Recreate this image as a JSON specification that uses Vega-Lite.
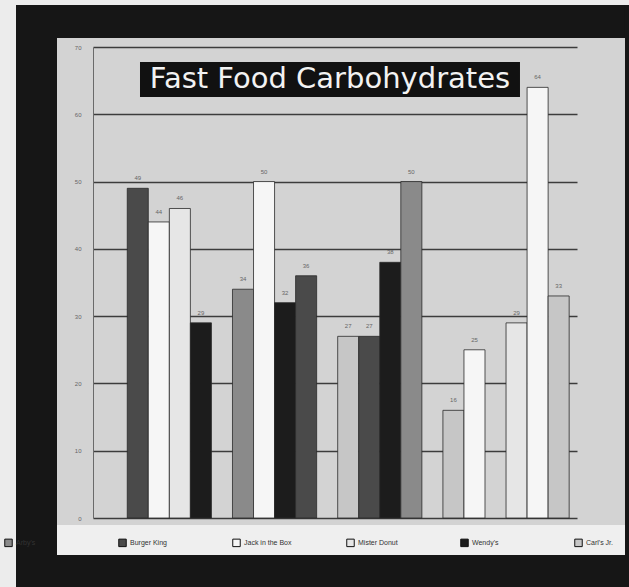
{
  "$schema": "https://vega.github.io/schema/vega-lite/v6.json",
  "width": 484,
  "height": 471,
  "autosize": "none",
  "padding": {"left": 93, "top": 47, "right": 52, "bottom": 69},
  "background": "#d3d3d3",
  "config": {"view": {"stroke": null}, "font": "Liberation Sans"},
  "data": {"values": [
    {"group": "Group 1", "item": "a1", "restaurant": "Burger King", "carbs": 49},
    {"group": "Group 1", "item": "a2", "restaurant": "Jack in the Box", "carbs": 44},
    {"group": "Group 1", "item": "a3", "restaurant": "Mister Donut", "carbs": 46},
    {"group": "Group 1", "item": "a4", "restaurant": "Wendy's", "carbs": 29},
    {"group": "Group 2", "item": "b1", "restaurant": "Arby's", "carbs": 34},
    {"group": "Group 2", "item": "b2", "restaurant": "Jack in the Box", "carbs": 50},
    {"group": "Group 2", "item": "b3", "restaurant": "Wendy's", "carbs": 32},
    {"group": "Group 2", "item": "b4", "restaurant": "Burger King", "carbs": 36},
    {"group": "Group 3", "item": "c1", "restaurant": "Carl's Jr.", "carbs": 27},
    {"group": "Group 3", "item": "c2", "restaurant": "Burger King", "carbs": 27},
    {"group": "Group 3", "item": "c3", "restaurant": "Wendy's", "carbs": 38},
    {"group": "Group 3", "item": "c4", "restaurant": "Arby's", "carbs": 50},
    {"group": "Group 4", "item": "d1", "restaurant": "Carl's Jr.", "carbs": 16},
    {"group": "Group 4", "item": "d2", "restaurant": "Jack in the Box", "carbs": 25},
    {"group": "Group 4", "item": "d3", "restaurant": "Mister Donut", "carbs": 29},
    {"group": "Group 4", "item": "d4", "restaurant": "Jack in the Box", "carbs": 64},
    {"group": "Group 4", "item": "d5", "restaurant": "Carl's Jr.", "carbs": 33}
  ]},
  "resolve": {"scale": {"x": "independent"}},
  "layer": [
    {
      "data": {"values": [{"part": "paper left"}]},
      "mark": {"type": "rect", "color": "#ececec"},
      "encoding": {
        "x": {"datum": -0.19215, "type": "quantitative", "scale": {"domain": [0, 1]}, "axis": null},
        "x2": {"datum": -0.15909},
        "y": {"datum": 76.98, "type": "quantitative"},
        "y2": {"datum": -10.25}
      }
    },
    {
      "data": {"values": [{"part": "paper top"}]},
      "mark": {"type": "rect", "color": "#ececec"},
      "encoding": {
        "x": {"datum": -0.19215, "type": "quantitative", "scale": {"domain": [0, 1]}, "axis": null},
        "x2": {"datum": 1.10744},
        "y": {"datum": 76.98, "type": "quantitative"},
        "y2": {"datum": 76.24}
      }
    },
    {
      "data": {"values": [{"part": "frame left"}]},
      "mark": {"type": "rect", "color": "#161616"},
      "encoding": {
        "x": {"datum": -0.15909, "type": "quantitative", "scale": {"domain": [0, 1]}, "axis": null},
        "x2": {"datum": -0.07438},
        "y": {"datum": 76.24, "type": "quantitative"},
        "y2": {"datum": -10.25}
      }
    },
    {
      "data": {"values": [{"part": "frame top"}]},
      "mark": {"type": "rect", "color": "#161616"},
      "encoding": {
        "x": {"datum": -0.15909, "type": "quantitative", "scale": {"domain": [0, 1]}, "axis": null},
        "x2": {"datum": 1.10744},
        "y": {"datum": 76.24, "type": "quantitative"},
        "y2": {"datum": 71.33}
      }
    },
    {
      "data": {"values": [{"part": "frame right"}]},
      "mark": {"type": "rect", "color": "#161616"},
      "encoding": {
        "x": {"datum": 1.09917, "type": "quantitative", "scale": {"domain": [0, 1]}, "axis": null},
        "x2": {"datum": 1.10744},
        "y": {"datum": 76.24, "type": "quantitative"},
        "y2": {"datum": -10.25}
      }
    },
    {
      "data": {"values": [{"part": "frame bottom"}]},
      "mark": {"type": "rect", "color": "#161616"},
      "encoding": {
        "x": {"datum": -0.15909, "type": "quantitative", "scale": {"domain": [0, 1]}, "axis": null},
        "x2": {"datum": 1.10744},
        "y": {"datum": -5.5, "type": "quantitative"},
        "y2": {"datum": -10.25}
      }
    },
    {
      "data": {"values": [{"part": "legend band"}]},
      "mark": {"type": "rect", "color": "#efefef"},
      "encoding": {
        "x": {"datum": -0.07438, "type": "quantitative", "scale": {"domain": [0, 1]}, "axis": null},
        "x2": {"datum": 1.09917},
        "y": {"datum": -1.04, "type": "quantitative"},
        "y2": {"datum": -5.5}
      }
    },
    {
      "mark": {"type": "bar", "stroke": "#2a2a2a", "strokeWidth": 0.8},
      "encoding": {
        "x": {
          "field": "item", "type": "nominal", "sort": null,
          "scale": {
            "type": "band",
            "domain": ["a1", "a2", "a3", "a4", "s4", "b1", "b2", "b3", "b4", "s5", "c1", "c2", "c3", "c4", "s6", "d1", "d2", "s7", "d3", "d4", "d5"],
            "paddingInner": 0, "paddingOuter": 1.024, "align": 0.814
          },
          "axis": null
        },
        "y": {
          "field": "carbs", "type": "quantitative",
          "scale": {"domain": [0, 70], "nice": false, "zero": false},
          "axis": {
            "values": [0, 10, 20, 30, 40, 50, 60, 70],
            "title": null, "grid": true, "gridColor": "#3c3c3c", "gridWidth": 1.3,
            "domain": true, "domainColor": "#6a6a6a", "domainWidth": 1,
            "ticks": false, "labelFontSize": 6, "labelColor": "#666",
            "labelPadding": 12
          }
        },
        "y2": {"datum": 0},
        "color": {
          "field": "restaurant", "type": "nominal",
          "scale": {
            "domain": ["Arby's", "Burger King", "Jack in the Box", "Mister Donut", "Wendy's", "Carl's Jr."],
            "range": ["#8a8a8a", "#4a4a4a", "#f6f6f6", "#e6e6e6", "#1c1c1c", "#c6c6c6"]
          },
          "legend": {
            "title": null, "orient": "none", "legendX": -89, "legendY": 491,
            "direction": "horizontal", "columns": 6, "gridAlign": "all",
            "symbolType": "square", "symbolSize": 56, "symbolStrokeColor": "#111",
            "symbolStrokeWidth": 1, "labelFontSize": 7, "labelColor": "#333",
            "labelOffset": 3, "columnPadding": 52
          }
        }
      }
    },
    {
      "mark": {"type": "text", "fontSize": 6, "color": "#666", "dy": -10},
      "encoding": {
        "x": {"field": "item", "type": "nominal", "sort": null,
          "scale": {
            "type": "band",
            "domain": ["a1", "a2", "a3", "a4", "s4", "b1", "b2", "b3", "b4", "s5", "c1", "c2", "c3", "c4", "s6", "d1", "d2", "s7", "d3", "d4", "d5"],
            "paddingInner": 0, "paddingOuter": 1.024, "align": 0.814
          },
          "axis": null},
        "y": {"field": "carbs", "type": "quantitative"},
        "text": {"field": "carbs", "type": "quantitative"}
      }
    },
    {
      "data": {"values": [{"title": "Fast Food Carbohydrates"}]},
      "mark": {"type": "rect", "color": "#111111"},
      "encoding": {
        "x": {"datum": 0.0971, "type": "quantitative", "scale": {"domain": [0, 1]}, "axis": null},
        "x2": {"datum": 0.8822},
        "y": {"datum": 67.77, "type": "quantitative"},
        "y2": {"datum": 62.57}
      }
    },
    {
      "data": {"values": [{"title": "Fast Food Carbohydrates"}]},
      "mark": {"type": "text", "font": "DejaVu Sans", "fontSize": 29, "color": "#f2f2f2", "baseline": "middle", "align": "center"},
      "encoding": {
        "x": {"datum": 0.4897, "type": "quantitative", "scale": {"domain": [0, 1]}, "axis": null},
        "y": {"datum": 65.17, "type": "quantitative"},
        "text": {"field": "title", "type": "nominal"}
      }
    }
  ]
}
